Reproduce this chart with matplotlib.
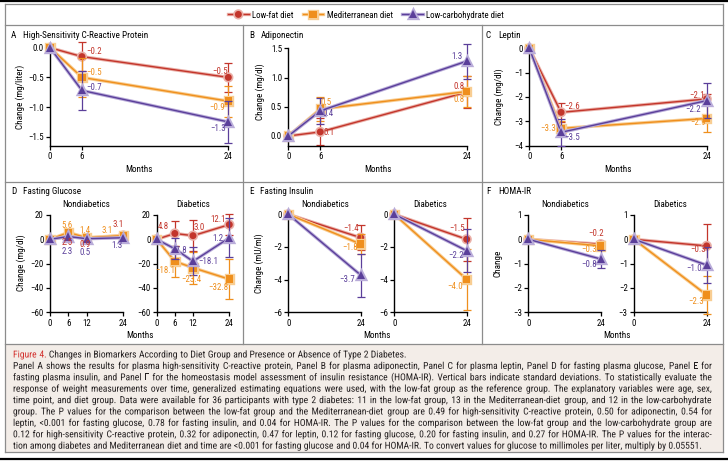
import numpy as np
import matplotlib
matplotlib.use('Agg')
import matplotlib.pyplot as plt
from matplotlib import font_manager
from matplotlib.lines import Line2D
from matplotlib.patches import Rectangle
from matplotlib.ticker import FuncFormatter
import matplotlib.patheffects as pe

# ---------------- data ----------------
# every list is ordered: low-fat, Mediterranean, low-carbohydrate
diets = ['Low-fat diet', 'Mediterranean diet', 'Low-carbohydrate diet']
months_long = [0, 6, 24]
months_gluc = [0, 6, 12, 24]
months_short = [0, 24]

crp_mean = [[0, -0.15, -0.5], [0, -0.5, -0.9], [0, -0.72, -1.25]]
crp_sd = [[0, 0.25, 0.25], [0, 0.33, 0.26], [0, 0.33, 0.35]]
crp_text = [['−0.2', '−0.5'], ['−0.5', '−0.9'], ['−0.7', '−1.3']]

adipo_mean = [[0, 0.07, 0.75], [0, 0.46, 0.76], [0, 0.43, 1.28]]
adipo_sd = [[0, 0.23, 0.27], [0, 0.2, 0.27], [0, 0.22, 0.3]]
adipo_text = [['0.1', '0.8'], ['0.5', '0.8'], ['0.4', '1.3']]

leptin_mean = [[0, -2.63, -2.08], [0, -3.29, -2.88], [0, -3.45, -2.15]]
leptin_sd = [[0, 0.4, 0.22], [0, 0.3, 0.55], [0, 0.55, 0.72]]
leptin_text = [['−2.6', '−2.1'], ['−3.3', '−2.9'], ['−3.5', '−2.2']]

gluc_non_mean = [[0, 2.5, 0.9, 3.1], [0, 5.6, 1.4, 3.1], [0, 2.3, 0.5, 1.3]]
gluc_non_text = [['2.5', '0.9', '3.1'], ['5.6', '1.4', '3.1'], ['2.3', '0.5', '1.3']]
gluc_dia_mean = [[0, 4.8, 3.0, 12.1], [0, -18.1, -23.4, -32.8], [0, -7.8, -18.1, 1.2]]
gluc_dia_sd = [[0, 10.5, 12.5, 8.8], [0, 13, 13, 16.4], [0, 8.6, 11.5, 16]]
gluc_dia_text = [['4.8', '3.0', '12.1'], ['−18.1', '−23.4', '−32.8'], ['−7.8', '−18.1', '1.2']]

ins_non_mean = [[0, -1.43], [0, -1.82], [0, -3.72]]
ins_non_sd = [[0, 0.75], [0, 0.6], [0, 1.32]]
ins_non_text = [['−1.4'], ['−1.8'], ['−3.7']]
ins_dia_mean = [[0, -1.53], [0, -3.98], [0, -2.23]]
ins_dia_sd = [[0, 1.3], [0, 1.85], [0, 1.3]]
ins_dia_text = [['−1.5'], ['−4.0'], ['−2.2']]

homa_non_mean = [[0, -0.2], [0, -0.27], [0, -0.81]]
homa_non_sd = [[0, 0.15], [0, 0.1], [0, 0.38]]
homa_non_text = [['−0.2'], ['−0.3'], ['−0.8']]
homa_dia_mean = [[0, -0.27], [0, -2.29], [0, -1.06]]
homa_dia_sd = [[0, 0.9], [0, 0.8], [0, 0.75]]
homa_dia_text = [['−0.3'], ['−2.3'], ['−1.0']]

caption_title = 'Changes in Biomarkers According to Diet Group and Presence or Absence of Type 2 Diabetes.'
caption_lines = [
    'Panel A shows the results for plasma high-sensitivity C-reactive protein, Panel B for plasma adiponectin, Panel C for plasma leptin, Panel D for fasting plasma glucose, Panel E for',
    'fasting plasma insulin, and Panel F for the homeostasis model assessment of insulin resistance (HOMA-IR). Vertical bars indicate standard deviations. To statistically evaluate the',
    'response of weight measurements over time, generalized estimating equations were used, with the low-fat group as the reference group. The explanatory variables were age, sex,',
    'time point, and diet group. Data were available for 36 participants with type 2 diabetes: 11 in the low-fat group, 13 in the Mediterranean-diet group, and 12 in the low-carbohydrate',
    'group. The P values for the comparison between the low-fat group and the Mediterranean-diet group are 0.49 for high-sensitivity C-reactive protein, 0.50 for adiponectin, 0.54 for',
    'leptin, <0.001 for fasting glucose, 0.78 for fasting insulin, and 0.04 for HOMA-IR. The P values for the comparison between the low-fat group and the low-carbohydrate group are',
    '0.12 for high-sensitivity C-reactive protein, 0.32 for adiponectin, 0.47 for leptin, 0.12 for fasting glucose, 0.20 for fasting insulin, and 0.27 for HOMA-IR. The P values for the interac-',
    'tion among diabetes and Mediterranean diet and time are <0.001 for fasting glucose and 0.04 for HOMA-IR. To convert values for glucose to millimoles per liter, multiply by 0.05551.',
]

# ---------------- fonts: prefer a narrow sans ----------------
ttf = font_manager.fontManager.ttflist
names = {f.name for f in ttf}
FONT, STRETCH = 'Liberation Sans', 'normal'
for n in ['Liberation Sans Narrow', 'Roboto Condensed', 'Open Sans Condensed',
          'Noto Sans Condensed', 'DejaVu Sans Condensed']:
    if n in names:
        FONT = n
        break
else:
    for f in ttf:
        if (f.name in ('DejaVu Sans', 'Noto Sans', 'Open Sans', 'Roboto')
                and f.stretch in ('condensed', 'semi-condensed') and f.style == 'normal'
                and f.weight in (400, 'normal', 'regular', 'book')):
            FONT, STRETCH = f.name, f.stretch
            break
plt.rcParams['font.family'] = [FONT, 'DejaVu Sans']
plt.rcParams['font.stretch'] = STRETCH

colors = ['#c3352b', '#ef8f1d', '#5b3f9a']
halos = ['#eab0a8', '#f8cd92', '#b9acd9']
markers = ['o', 's', '^']
msizes = [5.0, 5.4, 5.8]
gray = '#8c8c8c'
FS = 6.4      # tick labels and point labels
FT = 6.6      # titles, axis labels, legend

W, H = 728, 474
fig = plt.figure(figsize=(W / 100, H / 100), dpi=100)


def add_ax(left, right, top, bottom):
    return fig.add_axes([left / W, 1 - bottom / H, (right - left) / W, (bottom - top) / H])


def fwd(x):
    x = np.asarray(x, dtype=float)
    return np.where(x < 6, x * 4.3 / 6, 4.3 + (x - 6) * (24 - 4.3) / 18)


def inv(x):
    x = np.asarray(x, dtype=float)
    return np.where(x < 4.3, x * 6 / 4.3, 6 + (x - 4.3) * 18 / (24 - 4.3))


def style(ax, ylim, yticks, fmt, xticks, squeeze=False):
    if squeeze:
        ax.set_xscale('function', functions=(fwd, inv))
    ax.set_xlim(0, 24)
    ax.set_xticks(xticks)
    ax.set_ylim(*ylim)
    ax.set_yticks(yticks)
    ax.yaxis.set_major_formatter(FuncFormatter(lambda v, p: (fmt % v).replace('-', '−')))
    for s in ['top', 'right']:
        ax.spines[s].set_visible(False)
    for s in ['left', 'bottom']:
        ax.spines[s].set_linewidth(1.0)
    ax.tick_params(direction='out', length=3, width=0.9, labelsize=FS, pad=1.5)
    ax.patch.set_alpha(0)


def draw(ax, months, means, sds, texts, offsets):
    for k in range(3):
        ax.plot(months, means[k], color=colors[k], lw=1.0, marker=markers[k], ms=msizes[k],
                mew=0, clip_on=False, zorder=3 + k,
                path_effects=[pe.Stroke(linewidth=2.4, foreground=halos[k]), pe.Normal()])
        if sds is not None:
            ax.errorbar(months[1:], means[k][1:], yerr=sds[k][1:], fmt='none', ecolor=colors[k],
                        elinewidth=0.9, capsize=2.6, capthick=0.9, clip_on=False, zorder=2 + k)
        for j, t in enumerate(texts[k]):
            ax.annotate(t, (months[j + 1], means[k][j + 1]), xytext=offsets[k][j],
                        textcoords='offset pixels', ha='center', va='center',
                        color=colors[k], fontsize=FS, zorder=10)


# ---------------- row 1 ----------------
axA = add_ax(50, 228.3, 47.7, 145.7)
style(axA, (-1.65, 0), [0, -0.5, -1.0, -1.5], '%.1f', months_long, squeeze=True)
draw(axA, months_long, crp_mean, crp_sd, crp_text,
     [[(12.6, 4.9), (-8.3, 5.6)], [(12.6, 5), (-11, -6.2)], [(12.6, 3), (-10, -6.5)]])

axB = add_ax(288.3, 466.7, 48.3, 145.7)
style(axB, (-0.166, 1.5), [0, 0.5, 1.0, 1.5], '%.1f', months_long, squeeze=True)
draw(axB, months_long, adipo_mean, adipo_sd, adipo_text,
     [[(9, -0.4), (-7.7, 6)], [(6, 6.4), (-7.7, -7.8)], [(7.6, -2.5), (-9.4, 4.4)]])

axC = add_ax(529.3, 706.7, 48.3, 145.7)
style(axC, (-4, 0), [0, -1, -2, -3, -4], '%.0f', months_long, squeeze=True)
draw(axC, months_long, leptin_mean, leptin_sd, leptin_text,
     [[(11.4, 6.3), (-10, 3.9)], [(-12.6, 0), (-8.4, -4.3)], [(10.7, -5.4), (-13.4, -9.3)]])

# ---------------- row 2 ----------------
axDn = add_ax(50, 123.3, 215, 312.3)
style(axDn, (-60, 20), [20, 0, -20, -40, -60], '%.0f', months_gluc)
draw(axDn, months_gluc, gluc_non_mean, None, gluc_non_text,
     [[(-1, -6.5), (-1.3, -5.8), (-5, 11.5)], [(-1, 7.5), (-1.3, 7), (-16, 4.8)],
      [(-1, -14.5), (-1.3, -13.5), (-6, -7.3)]])

axDd = add_ax(156.7, 229.3, 215, 312.3)
style(axDd, (-60, 20), [20, 0, -20, -40, -60], '%.0f', months_gluc)
draw(axDd, months_gluc, gluc_dia_mean, gluc_dia_sd, gluc_dia_text,
     [[(-11.7, 6.8), (6, 8.4), (-11, 5.3)], [(-10, -8.7), (-1.6, -12.2), (-11, -8.5)],
      [(4.5, -1.9), (15.7, 0), (-11, -0.5)]])

axEn = add_ax(288.3, 360.7, 214.3, 312.3)
style(axEn, (-6, 0), [0, -2, -4, -6], '%.0f', months_short)
draw(axEn, months_short, ins_non_mean, ins_non_sd, ins_non_text,
     [[(-10, 8.7)], [(-10.7, -3.3)], [(-13.4, -4.2)]])

axEd = add_ax(394.3, 466.7, 214.3, 312.3)
style(axEd, (-6, 0), [0, -2, -4, -6], '%.0f', months_short)
draw(axEd, months_short, ins_dia_mean, ins_dia_sd, ins_dia_text,
     [[(-9.4, 11)], [(-11.7, -7.4)], [(-10.7, -4.3)]])

axFn = add_ax(528.3, 600.7, 215, 312.3)
style(axFn, (-3, 1), [1, 0, -1, -2, -3], '%.0f', months_short)
draw(axFn, months_short, homa_non_mean, homa_non_sd, homa_non_text,
     [[(-4.7, 10.9)], [(-11.4, -4.1)], [(-11.4, -5)]])

axFd = add_ax(634, 706.7, 215, 312.3)
style(axFd, (-3, 1), [1, 0, -1, -2, -3], '%.0f', months_short)
draw(axFd, months_short, homa_dia_mean, homa_dia_sd, homa_dia_text,
     [[(-8.4, -4.1)], [(-10.7, -6)], [(-12.4, -3.3)]])


# ---------------- figure texts ----------------
def ftext(x, y, s, **kw):
    kw.setdefault('fontsize', FT)
    kw.setdefault('va', 'center')
    return fig.text(x / W, 1 - y / H, s, **kw)


for letter, name, xl, xn, y in [('A', 'High-Sensitivity C-Reactive Protein', 11, 23, 35),
                                ('B', 'Adiponectin', 249, 260.5, 35),
                                ('C', 'Leptin', 486, 498, 35),
                                ('D', 'Fasting Glucose', 11, 23, 191),
                                ('E', 'Fasting Insulin', 249, 260.5, 191),
                                ('F', 'HOMA-IR', 486.5, 498, 191)]:
    ftext(xl, y, letter)
    ftext(xn, y, name)

for label, x, y in [('Change (mg/liter)', 20.7, 96.7), ('Change (mg/dl)', 260, 92),
                    ('Change (mg/dl)', 499, 96.7), ('Change (mg/dl)', 21.7, 263),
                    ('Change (mU/ml)', 259, 263), ('Change', 498, 263)]:
    ftext(x, y, label, rotation=90, ha='center')

for x in [139, 377.5, 618]:
    ftext(x, 169, 'Months', ha='center')
for x in [140, 377, 617]:
    ftext(x, 336, 'Months', ha='center')
for x0, x1 in [(50, 229.3), (288.3, 466.7), (528.3, 706.7)]:
    ftext(x0 + 36.5, 204, 'Nondiabetics', ha='center')
    ftext(x1 - 36.5, 204, 'Diabetics', ha='center')

handles = [Line2D([], [], color=colors[k], lw=1.0, marker=markers[k], ms=msizes[k], mew=0,
                  path_effects=[pe.Stroke(linewidth=2.4, foreground=halos[k]), pe.Normal()])
           for k in range(3)]
fig.legend(handles, diets, loc='center', bbox_to_anchor=(366 / W, 1 - 15 / H), ncol=3,
           frameon=False, fontsize=FT - 0.2, handlelength=2.3, handletextpad=0.35,
           columnspacing=1.1, borderaxespad=0)


# ---------------- frame ----------------
def line(xs, ys, **kw):
    fig.add_artist(Line2D([x / W for x in xs], [1 - y / H for y in ys],
                          transform=fig.transFigure, **kw))


cap_bottom = 452
fig.add_artist(Rectangle((4.5 / W, 1 - cap_bottom / H), (723 - 4.5) / W, (cap_bottom - 344) / H,
                         transform=fig.transFigure, facecolor='#f3ede8', edgecolor='none', zorder=-1))
box = dict(color=gray, lw=0.9)
for y in [4, 25, 182, 344, cap_bottom]:
    line([4.5, 723], [y, y], **box)
line([4.5, 4.5], [4, cap_bottom], **box)
line([723, 723], [4, cap_bottom], **box)
line([243, 243], [25, 344], **box)
line([482, 482], [25, 344], **box)
line([0, 728], [1.2, 1.2], color='black', lw=1.6)
line([0, 728], [459, 459], color='black', lw=1.6)

# ---------------- caption (justified, word by word) ----------------
renderer = fig.canvas.get_renderer()
cap_left, cap_right = 13, 712
cap_base, cap_step = 357.5, 11.4


def width_px(s, size):
    t = fig.text(0, 0, s, fontsize=size)
    w = t.get_window_extent(renderer).width
    t.remove()
    return w


longest = max(caption_lines[:-1], key=lambda s: width_px(s, 7))
fs_cap = min(7.2, 7 * 0.975 * (cap_right - cap_left) / width_px(longest, 7))
space = width_px('a a', fs_cap) - width_px('aa', fs_cap)
ink = '#231f20'
# drawing the words as outlines keeps them all on one exact baseline
as_path = [pe.Normal()]


def put_words(words, y, justify, first_color=None):
    widths = [width_px(w, fs_cap) for w in words]
    gap = space
    if justify:
        gap = (cap_right - cap_left - sum(widths)) / (len(words) - 1)
    x = cap_left
    for i, (w, wd) in enumerate(zip(words, widths)):
        c = first_color if (first_color and i < 2) else ink
        ftext(x, y, w, color=c, fontsize=fs_cap, va='baseline', path_effects=as_path)
        x += wd + gap


put_words(['Figure', '4.'] + caption_title.split(' '), cap_base, False,
          first_color='#d22f2c')
for i, ln in enumerate(caption_lines):
    put_words(ln.split(' '), cap_base + (i + 1) * cap_step, i < len(caption_lines) - 1)

fig.savefig('out.png', dpi=100)
